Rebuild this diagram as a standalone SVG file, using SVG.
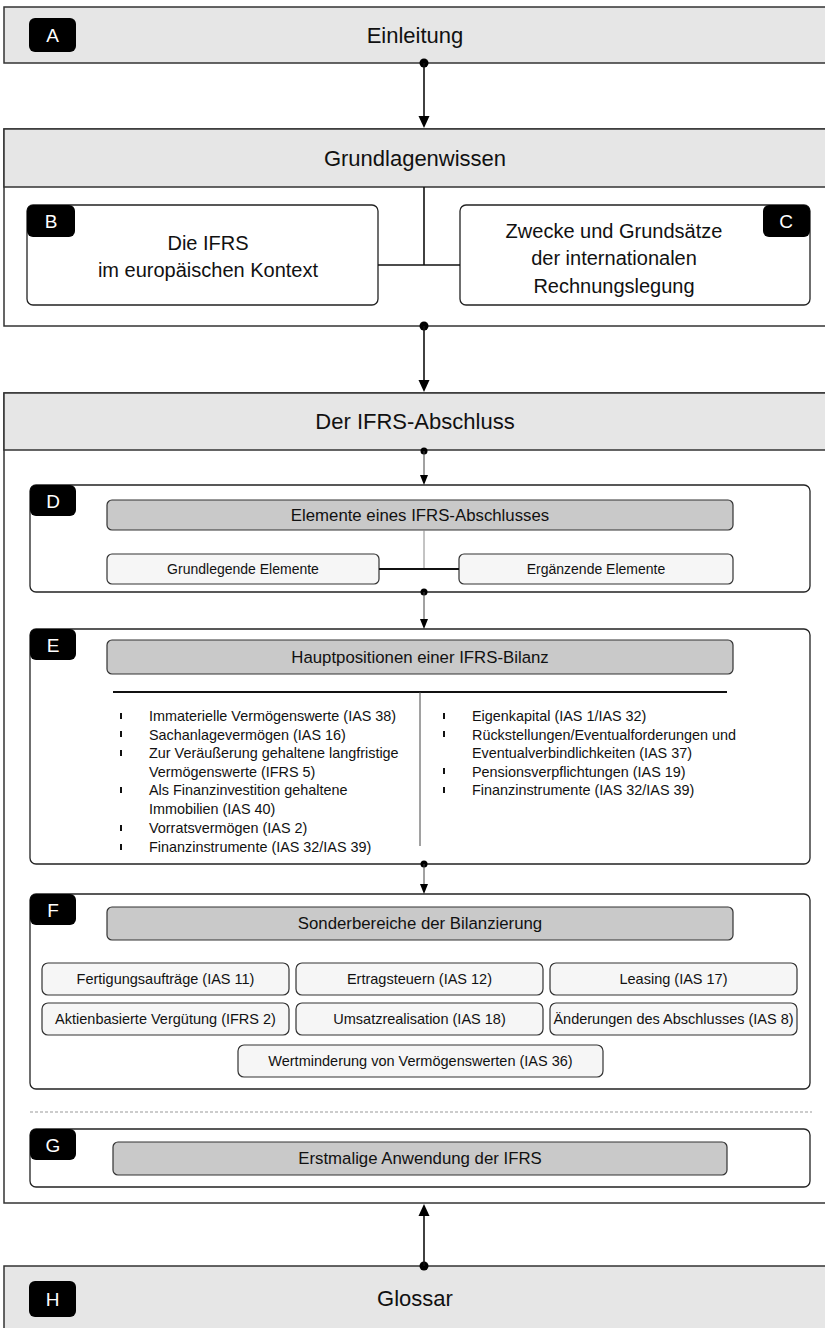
<svg xmlns="http://www.w3.org/2000/svg" width="825" height="1328" viewBox="0 0 825 1328">
<style>
text{font-family:"Liberation Sans",Arial,sans-serif;fill:#111;}
.big{font-size:22px;text-anchor:middle;}
.mid{font-size:20px;text-anchor:middle;}
.hd{font-size:16.8px;text-anchor:middle;}
.sm{font-size:14px;text-anchor:middle;}
.sf{font-size:14.5px;text-anchor:middle;}
.bl{font-size:14.4px;}
.badge{fill:#000;}
.bt{fill:#fff;font-size:19px;text-anchor:middle;}
.outer{fill:#fff;stroke:#333;stroke-width:1.5;}
.band{fill:#e6e6e6;stroke:#333;stroke-width:1.5;}
.box{fill:#fff;stroke:#222;stroke-width:1.3;}
.ghd{fill:#c9c9c9;stroke:#333;stroke-width:1.2;}
.sub{fill:#f6f6f6;stroke:#333;stroke-width:1.2;}
.thick{stroke:#111;stroke-width:2;fill:none;}
.thin{stroke:#444;stroke-width:1;fill:none;}
.mln{stroke:#111;stroke-width:1.6;fill:none;}
</style>

<g id="nodeA">
<rect class="band" x="4" y="7" width="830" height="56"/>
<rect class="badge" x="29" y="18" width="47" height="34" rx="6"/>
<text class="bt" x="52.5" y="42">A</text>
<text class="big" x="415" y="43">Einleitung</text>
</g>

<g id="nodeGrundlagen">
<rect class="outer" x="4" y="129" width="830" height="197"/>
<rect class="band" x="4" y="129" width="830" height="58"/>
<text class="big" x="415" y="166">Grundlagenwissen</text>
</g>

<g id="nodeB">
<rect class="box" x="27" y="205" width="351" height="100" rx="6"/>
<rect class="badge" x="27" y="205" width="48" height="32" rx="6"/>
<text class="bt" x="51" y="228">B</text>
<text class="mid" x="208" y="250">Die IFRS</text>
<text class="mid" x="208" y="277">im europäischen Kontext</text>
</g>

<g id="nodeC">
<rect class="box" x="460" y="205" width="350" height="100" rx="6"/>
<rect class="badge" x="763" y="205" width="47" height="32" rx="6"/>
<text class="bt" x="786" y="228">C</text>
<text class="mid" x="614" y="238">Zwecke und Grundsätze</text>
<text class="mid" x="614" y="265">der internationalen</text>
<text class="mid" x="614" y="293">Rechnungslegung</text>
</g>

<g id="nodeAbschluss">
<rect class="outer" x="4" y="393" width="830" height="810"/>
<rect class="band" x="4" y="393" width="830" height="57"/>
<text class="big" x="415" y="429">Der IFRS-Abschluss</text>
<line x1="30" y1="1112" x2="812" y2="1112" stroke="#999" stroke-width="1.2" stroke-dasharray="3,2"/>
</g>

<g id="nodeD">
<rect class="box" x="30" y="485" width="780" height="107" rx="6"/>
<rect class="badge" x="30" y="485" width="46" height="31" rx="6"/>
<text class="bt" x="53" y="508">D</text>
<rect class="ghd" x="107" y="500" width="626" height="30" rx="5"/>
<text class="hd" x="420" y="521">Elemente eines IFRS-Abschlusses</text>
<rect class="sub" x="107" y="554" width="272" height="30" rx="5"/>
<text class="sm" x="243" y="574">Grundlegende Elemente</text>
<rect class="sub" x="459" y="554" width="274" height="30" rx="5"/>
<text class="sm" x="596" y="574">Ergänzende Elemente</text>
</g>

<g id="nodeE">
<rect class="box" x="30" y="629" width="780" height="235" rx="6"/>
<rect class="badge" x="30" y="629" width="46" height="31" rx="6"/>
<text class="bt" x="53" y="652">E</text>
<rect class="ghd" x="107" y="640" width="626" height="34" rx="5"/>
<text class="hd" x="420" y="663">Hauptpositionen einer IFRS-Bilanz</text>
<line x1="113" y1="692" x2="727" y2="692" class="thick"/>
<line x1="420" y1="692" x2="420" y2="846" class="thin"/>
<g fill="#111">
<rect x="120" y="713" width="2" height="6"/><rect x="120" y="731" width="2" height="6"/><rect x="120" y="750" width="2" height="6"/>
<rect x="120" y="787" width="2" height="6"/><rect x="120" y="825" width="2" height="6"/><rect x="120" y="844" width="2" height="6"/>
<rect x="443" y="713" width="2" height="6"/><rect x="443" y="731" width="2" height="6"/><rect x="443" y="768" width="2" height="6"/><rect x="443" y="787" width="2" height="6"/>
</g>
<text class="bl" x="149" y="721">Immaterielle Vermögenswerte (IAS 38)</text>
<text class="bl" x="149" y="739.5">Sachanlagevermögen (IAS 16)</text>
<text class="bl" x="149" y="758">Zur Veräußerung gehaltene langfristige</text>
<text class="bl" x="149" y="776.5">Vermögenswerte (IFRS 5)</text>
<text class="bl" x="149" y="795">Als Finanzinvestition gehaltene</text>
<text class="bl" x="149" y="814">Immobilien (IAS 40)</text>
<text class="bl" x="149" y="833">Vorratsvermögen (IAS 2)</text>
<text class="bl" x="149" y="852">Finanzinstrumente (IAS 32/IAS 39)</text>
<text class="bl" x="472" y="721">Eigenkapital (IAS 1/IAS 32)</text>
<text class="bl" x="472" y="739.5">Rückstellungen/Eventualforderungen und</text>
<text class="bl" x="472" y="758">Eventualverbindlichkeiten (IAS 37)</text>
<text class="bl" x="472" y="776.5">Pensionsverpflichtungen (IAS 19)</text>
<text class="bl" x="472" y="795">Finanzinstrumente (IAS 32/IAS 39)</text>
</g>

<g id="nodeF">
<rect class="box" x="30" y="894" width="780" height="195" rx="6"/>
<rect class="badge" x="30" y="894" width="46" height="31" rx="6"/>
<text class="bt" x="53" y="917">F</text>
<rect class="ghd" x="107" y="907" width="626" height="33" rx="5"/>
<text class="hd" x="420" y="929">Sonderbereiche der Bilanzierung</text>
<rect class="sub" x="42" y="963" width="247" height="32" rx="6"/>
<text class="sf" x="165.5" y="984">Fertigungsaufträge (IAS 11)</text>
<rect class="sub" x="296" y="963" width="247" height="32" rx="6"/>
<text class="sf" x="419.5" y="984">Ertragsteuern (IAS 12)</text>
<rect class="sub" x="550" y="963" width="247" height="32" rx="6"/>
<text class="sf" x="673.5" y="984">Leasing (IAS 17)</text>
<rect class="sub" x="42" y="1003" width="247" height="32" rx="6"/>
<text class="sf" x="165.5" y="1024">Aktienbasierte Vergütung (IFRS 2)</text>
<rect class="sub" x="296" y="1003" width="247" height="32" rx="6"/>
<text class="sf" x="419.5" y="1024">Umsatzrealisation (IAS 18)</text>
<rect class="sub" x="550" y="1003" width="247" height="32" rx="6"/>
<text class="sf" x="673.5" y="1024">Änderungen des Abschlusses (IAS 8)</text>
<rect class="sub" x="238" y="1045" width="365" height="32" rx="6"/>
<text class="sf" x="420.5" y="1066">Wertminderung von Vermögenswerten (IAS 36)</text>
</g>

<g id="nodeG">
<rect class="box" x="30" y="1129" width="780" height="58" rx="6"/>
<rect class="badge" x="30" y="1129" width="46" height="31" rx="6"/>
<text class="bt" x="53" y="1152">G</text>
<rect class="ghd" x="113" y="1142" width="614" height="33" rx="5"/>
<text class="hd" x="420" y="1164">Erstmalige Anwendung der IFRS</text>
</g>

<g id="nodeH">
<rect class="band" x="4" y="1266" width="830" height="70"/>
<rect class="badge" x="29" y="1281" width="47" height="36" rx="6"/>
<text class="bt" x="52.5" y="1306">H</text>
<text class="big" x="415" y="1306">Glossar</text>
</g>

<g id="connectors">
<circle cx="424" cy="63" r="4.5" fill="#000"/>
<line x1="424" y1="63" x2="424" y2="118" class="mln"/>
<polygon points="418.5,116 429.5,116 424,128" fill="#000"/>
<line x1="424" y1="187" x2="424" y2="265" class="mln"/>
<line x1="378" y1="265" x2="460" y2="265" class="mln"/>
<circle cx="424" cy="326" r="4.5" fill="#000"/>
<line x1="424" y1="326" x2="424" y2="382" class="mln"/>
<polygon points="418.5,380 429.5,380 424,392" fill="#000"/>
<circle cx="424" cy="451" r="3.5" fill="#000"/>
<line x1="424" y1="451" x2="424" y2="477" class="thin"/>
<polygon points="420,475 428,475 424,485" fill="#000"/>
<line x1="424" y1="530" x2="424" y2="569" stroke="#888" stroke-width="1"/>
<line x1="379" y1="569" x2="459" y2="569" class="thick"/>
<circle cx="424" cy="592" r="3.5" fill="#000"/>
<line x1="424" y1="592" x2="424" y2="621" class="thin"/>
<polygon points="420,619 428,619 424,629" fill="#000"/>
<circle cx="424" cy="864" r="3.5" fill="#000"/>
<line x1="424" y1="864" x2="424" y2="886" class="thin"/>
<polygon points="420,884 428,884 424,894" fill="#000"/>
<circle cx="424" cy="1266" r="4.5" fill="#000"/>
<line x1="424" y1="1266" x2="424" y2="1214" class="mln"/>
<polygon points="418.5,1216 429.5,1216 424,1204" fill="#000"/>
</g>
</svg>
